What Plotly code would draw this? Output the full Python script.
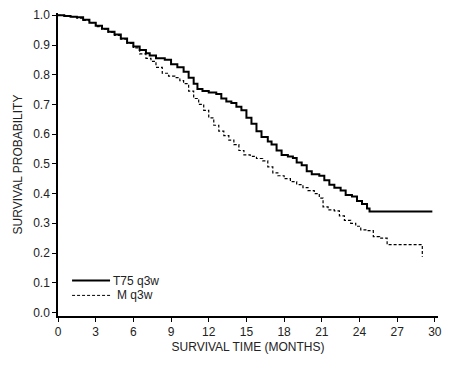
import plotly.graph_objects as go

t75_time = [0, 0.5, 1.0, 1.5, 2.0, 2.5, 3.0, 3.5, 4.0, 4.5, 5.0, 5.5, 6.0, 6.5, 7.0, 7.3, 7.8, 8.5, 9.0, 9.5,
            10.0, 10.4, 10.8, 11.1, 11.5, 12.0, 12.6, 13.0, 13.4, 13.8, 14.2, 14.6, 15.0, 15.4, 15.8, 16.2,
            16.7, 17.0, 17.4, 17.8, 18.3, 18.7, 19.0, 19.4, 19.8, 20.2, 20.8, 21.2, 21.6, 22.0, 22.5, 22.9,
            23.4, 23.8, 24.2, 24.6, 24.8, 29.8]
t75_surv = [1.0, 0.998, 0.995, 0.993, 0.985, 0.975, 0.965, 0.955, 0.945, 0.935, 0.922, 0.908, 0.895, 0.883,
            0.872, 0.865, 0.855, 0.850, 0.835, 0.825, 0.810, 0.790, 0.770, 0.752, 0.745, 0.740, 0.735, 0.720,
            0.710, 0.705, 0.692, 0.680, 0.655, 0.635, 0.610, 0.590, 0.575, 0.565, 0.545, 0.530, 0.525, 0.520,
            0.505, 0.495, 0.475, 0.465, 0.460, 0.445, 0.430, 0.420, 0.410, 0.395, 0.390, 0.375, 0.365, 0.350,
            0.340, 0.340]

m_time = [0, 0.5, 1.0, 1.5, 2.0, 2.5, 3.0, 3.5, 4.0, 4.5, 5.0, 5.5, 6.0, 6.5, 7.0, 7.4, 7.8, 8.3, 8.8, 9.3,
          9.7, 10.0, 10.4, 10.8, 11.2, 11.6, 12.0, 12.4, 12.8, 13.2, 13.6, 14.0, 14.4, 14.8, 15.3, 15.8, 16.3,
          16.7, 17.1, 17.5, 18.0, 18.5, 19.0, 19.5, 19.9, 20.4, 20.8, 21.1, 21.5, 22.0, 22.4, 22.8, 23.3, 23.7,
          24.1, 24.6, 25.1, 25.6, 26.2, 29.0, 29.0]
m_surv = [1.0, 0.998, 0.995, 0.990, 0.983, 0.975, 0.962, 0.953, 0.942, 0.932, 0.920, 0.905, 0.890, 0.870,
          0.855, 0.845, 0.825, 0.805, 0.795, 0.790, 0.780, 0.770, 0.745, 0.720, 0.700, 0.680, 0.655, 0.630,
          0.610, 0.595, 0.580, 0.565, 0.545, 0.530, 0.525, 0.518, 0.510, 0.490, 0.470, 0.460, 0.450, 0.440,
          0.430, 0.420, 0.410, 0.400, 0.385, 0.355, 0.345, 0.342, 0.325, 0.310, 0.300, 0.290, 0.278, 0.275,
          0.255, 0.250, 0.228, 0.228, 0.187]

series_names = ["T75 q3w", "M q3w"]
x_ticks = [0, 3, 6, 9, 12, 15, 18, 21, 24, 27, 30]
y_ticks = [0.0, 0.1, 0.2, 0.3, 0.4, 0.5, 0.6, 0.7, 0.8, 0.9, 1.0]

styles = [dict(color="black", width=2, shape="hv"),
          dict(color="black", width=1.2, shape="hv", dash="3px,2px")]

fig = go.Figure()
fig.add_trace(go.Scatter(x=t75_time, y=t75_surv, mode="lines", name=series_names[0], line=styles[0]))
fig.add_trace(go.Scatter(x=m_time, y=m_surv, mode="lines", name=series_names[1], line=styles[1]))

# compact legend drawn in paper coordinates
leg_rows = [0.117, 0.068]
leg_text_x = [0.14, 0.15]
for i, name in enumerate(series_names):
    st = styles[i]
    fig.add_shape(type="line", xref="paper", yref="paper", x0=0.037, x1=0.137,
                  y0=leg_rows[i], y1=leg_rows[i],
                  line=dict(color="black", width=st["width"] if i == 0 else 1, dash=st.get("dash", "solid")))
    fig.add_annotation(xref="paper", yref="paper", x=leg_text_x[i], y=leg_rows[i], text=name,
                       showarrow=False, xanchor="left", yanchor="middle",
                       font=dict(size=12, color="#222"))

font = "Arial, Liberation Sans, sans-serif"
# page body has an 8px default margin, so the figure is sized 464x358
fig.update_layout(
    width=464, height=358,
    margin=dict(l=50, r=34, t=5, b=50),
    paper_bgcolor="white", plot_bgcolor="white",
    font=dict(family=font, size=12, color="#222"),
    showlegend=False,
    xaxis=dict(range=[0, 30.25], tickvals=x_ticks, ticktext=[str(v) for v in x_ticks],
               showgrid=False, zeroline=False, showline=True, linecolor="black", linewidth=1.5,
               ticks="outside", ticklen=4, tickcolor="black", automargin=False,
               ticklabeloverflow="allow",
               title=dict(text="SURVIVAL TIME (MONTHS)", font=dict(size=12), standoff=4)),
    yaxis=dict(range=[-0.012, 1.0077], tickvals=y_ticks, ticktext=[f"{v:.1f}" for v in y_ticks],
               showgrid=False, zeroline=False, showline=True, linecolor="black", linewidth=1.5,
               ticks="outside", ticklen=4, tickcolor="black", automargin=False,
               ticklabeloverflow="allow",
               title=dict(text="SURVIVAL PROBABILITY", font=dict(size=12), standoff=8)),
)

fig.write_html("out.html")
